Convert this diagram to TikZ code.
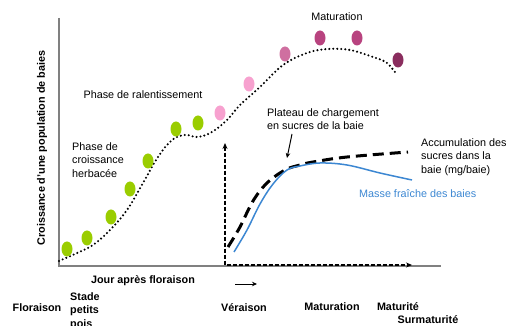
\documentclass[tikz,border=0pt]{standalone}
\usepackage{fontspec}
\setmainfont{Liberation Sans}
\usetikzlibrary{shapes.geometric,arrows.meta}
\definecolor{berrygreen}{HTML}{9ACD00}
\definecolor{berrylight}{HTML}{F7A1CF}
\definecolor{berrymid}{HTML}{CF6FA0}
\definecolor{berryrose}{HTML}{B8437F}
\definecolor{berrydark}{HTML}{8A2D5E}
\definecolor{axisgray}{HTML}{808080}
\definecolor{massblue}{HTML}{3C87D2}
\begin{document}
\begin{tikzpicture}[x=1pt,y=-1pt,
  lbl/.style={font=\fontsize{10.8}{13.5}\selectfont, inner sep=0pt},
  blbl/.style={font=\fontsize{10.8}{13.5}\selectfont\bfseries, inner sep=0pt},
  berry/.style={ellipse, minimum width=11pt, minimum height=15pt, inner sep=0pt, draw=none},
  dotcurve/.style={line width=2.3pt, dash pattern=on 0pt off 4pt, line cap=round},
  sugar/.style={line width=3pt, dash pattern=on 11pt off 6pt},
  mass/.style={massblue, line width=1.5pt},
  stagearrow/.style={line width=1.4pt, dash pattern=on 4pt off 2pt, {Stealth[length=6pt,width=5pt]}-{Stealth[length=6pt,width=5pt]}},
  pointer/.style={line width=1pt, -{Stealth[length=5pt,width=4.5pt]}}]
\useasboundingbox (0,0) rectangle (507,326);

% axes
\coordinate (ytop) at (59,18);
\coordinate (orig) at (59,266);
\coordinate (xend) at (441,266);
\draw[axisgray, line width=1.3pt] (ytop) -- (orig) -- (xend);

% veraison dashed L-arrow
\coordinate (vtop) at (225,143);
\coordinate (hend) at (412,265);
\draw[stagearrow] (vtop) |- (hend);

% dotted growth curve
\draw[dotcurve] plot[smooth, tension=0.6] coordinates {(59,261) (77,253) (93,245) (110,230) (127,210) (143,183) (158,157) (172,140) (185,135) (198,137) (212,132) (227,120) (240,105) (260,87) (283,65) (307,53) (328,49) (350,50) (373,57) (387,63) (397,75)};

% berries
\node[berry, fill=berrygreen] (d1) at (67,249) {};
\node[berry, fill=berrygreen] (d2) at (87,238) {};
\node[berry, fill=berrygreen] (d3) at (111,217) {};
\node[berry, fill=berrygreen] (d4) at (130,189) {};
\node[berry, fill=berrygreen] (d5) at (148,161) {};
\node[berry, fill=berrygreen] (d6) at (176,129) {};
\node[berry, fill=berrygreen] (d7) at (198,123) {};
\node[berry, fill=berrylight] (d8) at (220,113) {};
\node[berry, fill=berrylight] (d9) at (249,84) {};
\node[berry, fill=berrymid] (d10) at (285,54) {};
\node[berry, fill=berryrose] (d11) at (320,38) {};
\node[berry, fill=berryrose] (d12) at (357,38) {};
\node[berry, fill=berrydark] (d13) at (398,60) {};

% sugar accumulation and fresh mass curves
\draw[sugar] plot[smooth, tension=0.6] coordinates {(228,247) (240,227) (253,201) (267,183) (285,170) (300,165) (313,162) (347,157) (408,152)};
\draw[mass] plot[smooth, tension=0.6] coordinates {(234,252) (247,230) (260,204) (273,184) (287,170) (300,166) (320,163) (347,165) (380,173) (412,180)};

% labels
\node[lbl] (matTop) at (337,17) {Maturation};
\node[lbl] (ralent) at (143,95) {Phase de ralentissement};
\node[lbl, anchor=west, align=left] (herb) at (72,160) {Phase de\\croissance\\herbacée};
\node[lbl, anchor=west, align=left] (plateau) at (267,119) {Plateau de chargement\\en sucres de la baie};
\node[lbl, anchor=west, align=left] (accum) at (421,157) {Accumulation des\\sucres dans la\\baie (mg/baie)};
\node[lbl, anchor=west, text=massblue] (masse) at (359,194) {Masse fraîche des baies};
\node[blbl, rotate=90] (ylab) at (42,148) {Croissance d’une population de baies};
\node[blbl] (xlab) at (143,281) {Jour après floraison};

\coordinate (plA) at (292,134);
\coordinate (plB) at (287,158);
\draw[pointer] (plA) -- (plB);
\coordinate (tA) at (235,284);
\coordinate (tB) at (257,284);
\draw[pointer, line width=0.8pt] (tA) -- (tB);

% stage labels
\node[blbl] (flor) at (37,308) {Floraison};
\node[blbl, anchor=north west, align=left] (pois) at (70,292) {Stade\\petits\\pois};
\node[blbl] (verai) at (244,308) {Véraison};
\node[blbl] (matur) at (332,307) {Maturation};
\node[blbl] (maturite) at (398,307) {Maturité};
\node[blbl] (surmat) at (428,320) {Surmaturité};
\end{tikzpicture}
\end{document}
